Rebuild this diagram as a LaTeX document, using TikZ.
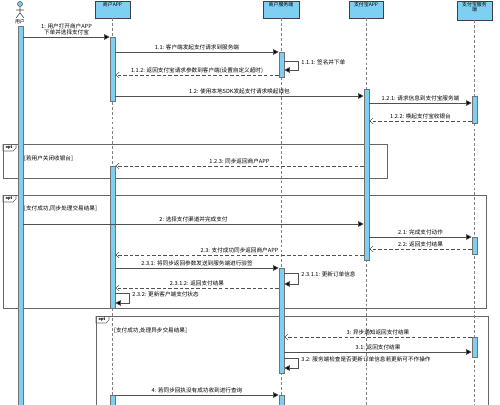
\documentclass[tikz,border=0pt]{standalone}
\usepackage{fontspec}
\setmainfont{Noto Sans CJK SC}
\usetikzlibrary{positioning, arrows.meta, fit, calc}
\definecolor{lifeblue}{RGB}{125,208,242}
\definecolor{linegray}{RGB}{80,80,80}

\begin{document}
\begin{tikzpicture}[
    x=0.05cm, y=-0.05cm,
    font=\fontsize{8}{9.5}\selectfont,
    head/.style={rectangle, draw=black!75, fill=lifeblue, line width=0.8pt, inner sep=0pt},
    headtext/.style={anchor=north, inner sep=1.5pt, align=center, font=\fontsize{7}{8}\selectfont},
    bar/.style={rectangle, draw=black!55, fill=lifeblue, line width=0.8pt, inner sep=0pt},
    lifeline/.style={draw=black!50, line width=0.8pt, dash pattern=on 4pt off 3pt},
    msg/.style={draw=linegray, line width=0.9pt, -{Triangle[length=8pt, width=8pt, fill=black]}},
    reply/.style={msg, dash pattern=on 5pt off 3pt, -{Straight Barb[length=5pt, width=8pt, line width=0.6pt]}},
    lbl/.style={midway, above, inner sep=2pt},
    self/.style={anchor=west, xshift=3pt, yshift=-2pt, inner sep=1pt},
    frame/.style={draw=black!60, line width=0.8pt},
    tag/.style={font=\fontsize{5.5}{6}\selectfont\bfseries, inner sep=0pt},
    guard/.style={anchor=west, inner sep=0pt}
]
    \useasboundingbox (0,0) rectangle (500,404);

    % Frames
    \draw[frame] (3,144) rectangle (387,178);
    \draw[frame] (3,144) -- (3,151) -- (13,151) -- (16,148) -- (16,144);
    \node[tag] (opt1) at (9,147.5) {opt};
    \node[guard] (g1) at (24,159) {[若用户关闭收银台]};

    \draw[frame] (3,195) rectangle (486,308);
    \draw[frame] (3,195) -- (3,202) -- (13,202) -- (16,199) -- (16,195);
    \node[tag] (opt2) at (9,198.5) {opt};
    \node[guard] (g2) at (24,209) {[支付成功,同步处理交易结果]};

    \draw[frame] (96,316) rectangle (488,420);
    \draw[frame] (96,316) -- (96,323) -- (106,323) -- (109,320) -- (109,316);
    \node[tag] (opt3) at (102,319.5) {opt};
    \node[guard] (g3) at (114,331) {[支付成功,处理异步交易结果]};

    % Actor
    \node[circle, draw=black!70, fill=lifeblue, line width=0.8pt, minimum size=0.25cm, inner sep=0pt] (userhead) at (20,4) {};
    \draw[black!70, line width=0.8pt] (userhead.south) -- (20,13) (16,10) -- (24,10) (16,18) -- (20,13) -- (24,18);
    \node[headtext] (usertxt) at (20,18) {用户};

    % Lifeline heads
    \node[head, fit={(95,1)(130,18)}] (apphead) {};
    \node[headtext] (apptxt) at (apphead.north) {商户APP};
    \node[head, fit={(263,1)(299,18)}] (srvhead) {};
    \node[headtext] (srvtxt) at (srvhead.north) {商户服务端};
    \node[head, fit={(349,1)(383,18)}] (alihead) {};
    \node[headtext] (alitxt) at (alihead.north) {支付宝APP};
    \node[head, fit={(457,1)(492,20)}] (ashead) {};
    \node[headtext] (astxt) at (ashead.north) {支付宝服务\\端};

    \draw[lifeline] (apphead.south) -- (apphead.south |- 0,420);
    \draw[lifeline] (srvhead.south) -- (srvhead.south |- 0,420);
    \draw[lifeline] (alihead.south) -- (alihead.south |- 0,420);
    \draw[lifeline] (ashead.south) -- (ashead.south |- 0,420);

    % Activation bars
    \node[bar, fit={(18,26)(23,420)}] (userbar) {};
    \node[bar, fit={(110,37)(115,101)}] (app1) {};
    \node[bar, fit={(110,166)(115,308)}] (app2) {};
    \node[bar, fit={(110,395)(115,420)}] (app3) {};
    \node[bar, fit={(279,52)(284,77)}] (srv1) {};
    \node[bar, fit={(279,268)(284,373)}] (srv2) {};
    \node[bar, fit={(279,395)(284,420)}] (srv3) {};
    \node[bar, fit={(364,89)(369,260)}] (ali1) {};
    \node[bar, fit={(472,96)(477,123)}] (as1) {};
    \node[bar, fit={(472,237)(477,254)}] (as2) {};
    \node[bar, fit={(472,337)(477,357)}] (as3) {};

    % Messages
    \draw[msg] (userbar.east |- 0,37) -- (app1.west |- 0,37) node[lbl, align=center] {1: 用户打开商户APP\\下单并选择支付宝};
    \draw[msg] (app1.east |- 0,52) -- (srv1.west |- 0,52) node[lbl] {1.1: 客户端发起支付请求到服务端};
    \draw[msg] (srv1.east |- 0,61) -- ++(14,0) node[self] {1.1.1: 签名并下单} |- (srv1.east |- 0,70);
    \draw[reply] (srv1.west |- 0,75) -- (app1.east |- 0,75) node[lbl] {1.1.2: 返回支付宝请求参数到客户端(设置自定义超时)};
    \draw[msg] (app1.east |- 0,96) -- (ali1.west |- 0,96) node[lbl] {1.2: 使用本地SDK发起支付请求唤起钱包};
    \draw[msg] (ali1.east |- 0,103) -- (as1.west |- 0,103) node[lbl] {1.2.1: 请求信息到支付宝服务端};
    \draw[reply] (as1.west |- 0,121) -- (ali1.east |- 0,121) node[lbl] {1.2.2: 唤起支付宝收银台};
    \draw[reply] (ali1.west |- 0,166) -- (app2.east |- 0,166) node[lbl] {1.2.3: 同步返回商户APP};

    \draw[msg] (userbar.east |- 0,224) -- (ali1.west |- 0,224) node[lbl] {2: 选择支付渠道并完成支付};
    \draw[msg] (ali1.east |- 0,237) -- (as2.west |- 0,237) node[lbl] {2.1: 完成支付动作};
    \draw[reply] (as2.west |- 0,249) -- (ali1.east |- 0,249) node[lbl] {2.2: 返回支付结果};
    \draw[reply] (ali1.west |- 0,255) -- (app2.east |- 0,255) node[lbl] {2.3: 支付成功同步返回商户APP};
    \draw[msg] (app2.east |- 0,268) -- (srv2.west |- 0,268) node[lbl] {2.3.1: 将同步返回参数发送到服务端进行验签};
    \draw[msg] (srv2.east |- 0,273) -- ++(14,0) node[self] {2.3.1.1: 更新订单信息} |- (srv2.east |- 0,284);
    \draw[reply] (srv2.west |- 0,288) -- (app2.east |- 0,288) node[lbl] {2.3.1.2: 返回支付结果};
    \draw[msg] (app2.east |- 0,293) -- ++(14,0) node[self] {2.3.2: 更新客户端支付状态} |- (app2.east |- 0,303);

    \draw[reply] (as3.west |- 0,337) -- (srv2.east |- 0,337) node[lbl] {3: 异步通知返回支付结果};
    \draw[msg] (srv2.east |- 0,352) -- (as3.west |- 0,352) node[lbl] {3.1: 返回支付结果};
    \draw[msg] (srv2.east |- 0,358) -- ++(14,0) node[self] {3.2: 服务端检查是否更新订单信息若更新可不作操作} |- (srv2.east |- 0,368);

    \draw[msg] (app3.east |- 0,395) -- (srv3.west |- 0,395) node[lbl] {4: 若同步回执没有成功收到进行查询};
\end{tikzpicture}
\end{document}
